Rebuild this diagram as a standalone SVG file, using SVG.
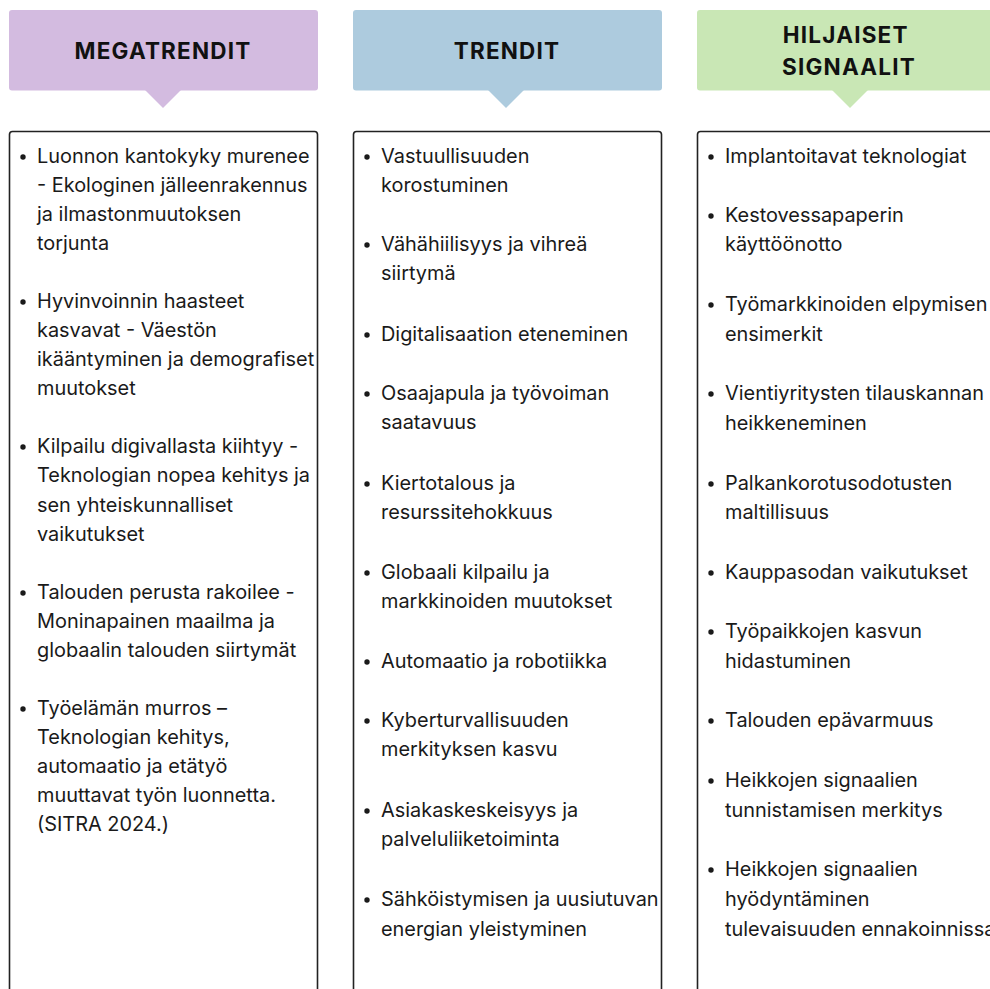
<svg xmlns="http://www.w3.org/2000/svg" width="990" height="989" viewBox="0 0 990 989">
  <style>
    .hd { font-family: Inter, "Liberation Sans", sans-serif; font-weight: 700; font-size: 22.5px; letter-spacing: 1.2px; fill: #111; text-anchor: middle; }
    .bx { fill: #fff; stroke: #222; stroke-width: 1.6; }
    .tx { font-family: Inter, "Liberation Sans", sans-serif; font-size: 19.9px; fill: #1a1a1a; }
    .dot { fill: #1a1a1a; }
  </style>
  <rect width="990" height="989" fill="#fff"/>

  <!-- column 1: megatrends -->
  <g id="megatrendit">
    <rect x="9" y="10" width="309" height="80.5" rx="3" fill="#d3bbe0"/>
    <polygon points="145,90 181,90 163,108" fill="#d3bbe0"/>
    <text class="hd" x="163" y="59">MEGATRENDIT</text>
    <rect class="bx" x="9.5" y="131.5" width="308" height="900" rx="3"/>
    <circle class="dot" cx="23" cy="157" r="2.7"/>
    <circle class="dot" cx="23" cy="302" r="2.7"/>
    <circle class="dot" cx="23" cy="447" r="2.7"/>
    <circle class="dot" cx="23" cy="593" r="2.7"/>
    <circle class="dot" cx="23" cy="709" r="2.7"/>
    <text class="tx" x="37">
      <tspan x="37" y="163">Luonnon kantokyky murenee</tspan>
      <tspan x="37" y="192">- Ekologinen jälleenrakennus</tspan>
      <tspan x="37" y="221">ja ilmastonmuutoksen</tspan>
      <tspan x="37" y="250">torjunta</tspan>
      <tspan x="37" y="308">Hyvinvoinnin haasteet</tspan>
      <tspan x="37" y="337">kasvavat - Väestön</tspan>
      <tspan x="37" y="366">ikääntyminen ja demografiset</tspan>
      <tspan x="37" y="395">muutokset</tspan>
      <tspan x="37" y="453">Kilpailu digivallasta kiihtyy -</tspan>
      <tspan x="37" y="482">Teknologian nopea kehitys ja</tspan>
      <tspan x="37" y="512">sen yhteiskunnalliset</tspan>
      <tspan x="37" y="541">vaikutukset</tspan>
      <tspan x="37" y="599">Talouden perusta rakoilee -</tspan>
      <tspan x="37" y="628">Moninapainen maailma ja</tspan>
      <tspan x="37" y="657">globaalin talouden siirtymät</tspan>
      <tspan x="37" y="715">Työelämän murros –</tspan>
      <tspan x="37" y="744">Teknologian kehitys,</tspan>
      <tspan x="37" y="773">automaatio ja etätyö</tspan>
      <tspan x="37" y="802">muuttavat työn luonnetta.</tspan>
      <tspan x="37" y="831">(SITRA 2024.)</tspan>
    </text>
  </g>

  <!-- column 2: trends -->
  <g id="trendit">
    <rect x="353" y="10" width="309" height="80.5" rx="3" fill="#adcbde"/>
    <polygon points="488,90 524,90 506,108" fill="#adcbde"/>
    <text class="hd" x="507" y="59">TRENDIT</text>
    <rect class="bx" x="353.5" y="131.5" width="308" height="900" rx="3"/>
    <circle class="dot" cx="367" cy="157" r="2.7"/>
    <circle class="dot" cx="367" cy="245" r="2.7"/>
    <circle class="dot" cx="367" cy="335" r="2.7"/>
    <circle class="dot" cx="367" cy="394" r="2.7"/>
    <circle class="dot" cx="367" cy="484" r="2.7"/>
    <circle class="dot" cx="367" cy="573" r="2.7"/>
    <circle class="dot" cx="367" cy="662" r="2.7"/>
    <circle class="dot" cx="367" cy="721" r="2.7"/>
    <circle class="dot" cx="367" cy="811" r="2.7"/>
    <circle class="dot" cx="367" cy="900" r="2.7"/>
    <text class="tx" x="381">
      <tspan x="381" y="163">Vastuullisuuden</tspan>
      <tspan x="381" y="192">korostuminen</tspan>
      <tspan x="381" y="251">Vähähiilisyys ja vihreä</tspan>
      <tspan x="381" y="280">siirtymä</tspan>
      <tspan x="381" y="341">Digitalisaation eteneminen</tspan>
      <tspan x="381" y="400">Osaajapula ja työvoiman</tspan>
      <tspan x="381" y="429">saatavuus</tspan>
      <tspan x="381" y="490">Kiertotalous ja</tspan>
      <tspan x="381" y="519">resurssitehokkuus</tspan>
      <tspan x="381" y="579">Globaali kilpailu ja</tspan>
      <tspan x="381" y="608">markkinoiden muutokset</tspan>
      <tspan x="381" y="668">Automaatio ja robotiikka</tspan>
      <tspan x="381" y="727">Kyberturvallisuuden</tspan>
      <tspan x="381" y="756">merkityksen kasvu</tspan>
      <tspan x="381" y="817">Asiakaskeskeisyys ja</tspan>
      <tspan x="381" y="846">palveluliiketoiminta</tspan>
      <tspan x="381" y="906">Sähköistymisen ja uusiutuvan</tspan>
      <tspan x="381" y="936">energian yleistyminen</tspan>
    </text>
  </g>

  <!-- column 3: weak signals -->
  <g id="hiljaiset-signaalit">
    <rect x="697" y="10" width="309" height="80.5" rx="3" fill="#c9e7b5"/>
    <polygon points="832,90 868,90 850,108" fill="#c9e7b5"/>
    <text class="hd" x="849">
      <tspan x="849" y="43">HILJAISET</tspan>
      <tspan x="849" y="75">SIGNAALIT</tspan>
    </text>
    <rect class="bx" x="697.5" y="131.5" width="308" height="900" rx="3"/>
    <circle class="dot" cx="711" cy="157" r="2.7"/>
    <circle class="dot" cx="711" cy="216" r="2.7"/>
    <circle class="dot" cx="711" cy="305" r="2.7"/>
    <circle class="dot" cx="711" cy="394" r="2.7"/>
    <circle class="dot" cx="711" cy="484" r="2.7"/>
    <circle class="dot" cx="711" cy="573" r="2.7"/>
    <circle class="dot" cx="711" cy="632" r="2.7"/>
    <circle class="dot" cx="711" cy="721" r="2.7"/>
    <circle class="dot" cx="711" cy="781" r="2.7"/>
    <circle class="dot" cx="711" cy="870" r="2.7"/>
    <text class="tx" x="725">
      <tspan x="725" y="163">Implantoitavat teknologiat</tspan>
      <tspan x="725" y="222">Kestovessapaperin</tspan>
      <tspan x="725" y="251">käyttöönotto</tspan>
      <tspan x="725" y="311">Työmarkkinoiden elpymisen</tspan>
      <tspan x="725" y="341">ensimerkit</tspan>
      <tspan x="725" y="400">Vientiyritysten tilauskannan</tspan>
      <tspan x="725" y="430">heikkeneminen</tspan>
      <tspan x="725" y="490">Palkankorotusodotusten</tspan>
      <tspan x="725" y="519">maltillisuus</tspan>
      <tspan x="725" y="579">Kauppasodan vaikutukset</tspan>
      <tspan x="725" y="638">Työpaikkojen kasvun</tspan>
      <tspan x="725" y="668">hidastuminen</tspan>
      <tspan x="725" y="727">Talouden epävarmuus</tspan>
      <tspan x="725" y="787">Heikkojen signaalien</tspan>
      <tspan x="725" y="817">tunnistamisen merkitys</tspan>
      <tspan x="725" y="876">Heikkojen signaalien</tspan>
      <tspan x="725" y="906">hyödyntäminen</tspan>
      <tspan x="725" y="936">tulevaisuuden ennakoinnissa</tspan>
    </text>
  </g>
</svg>
